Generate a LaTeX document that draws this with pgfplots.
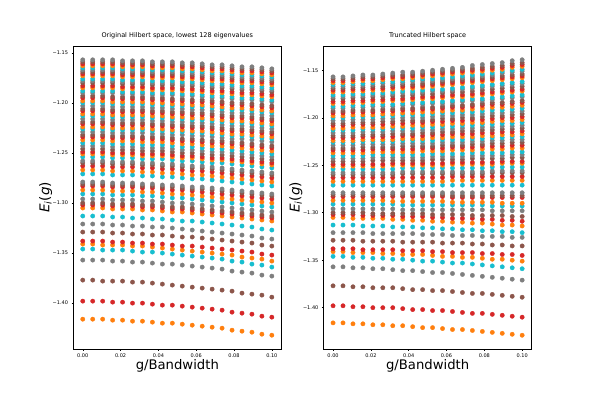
\documentclass[border=0pt]{standalone}
\usepackage{fontspec}
\setmainfont{DejaVu Sans}
\usepackage{pgfplots}
\usepackage{pgfplotstable}
\pgfplotsset{compat=1.18}

\definecolor{tOrange}{HTML}{FF7F0E}
\definecolor{tRed}{HTML}{D62728}
\definecolor{tBrown}{HTML}{8C564B}
\definecolor{tGray}{HTML}{7F7F7F}
\definecolor{tCyan}{HTML}{17BECF}

% one row per (doubly degenerate) eigenvalue, one column per g/Bandwidth value
\pgfplotstableread[header=has colnames]{
0 0.00526 0.01053 0.01579 0.02105 0.02632 0.03158 0.03684 0.04211 0.04737 0.05263 0.05789 0.06316 0.06842 0.07368 0.07895 0.08421 0.08947 0.09474 0.1
-1.416 -1.416 -1.416 -1.417 -1.417 -1.418 -1.418 -1.419 -1.420 -1.420 -1.421 -1.422 -1.423 -1.424 -1.425 -1.427 -1.428 -1.429 -1.431 -1.432
-1.398 -1.398 -1.398 -1.399 -1.399 -1.400 -1.400 -1.401 -1.402 -1.402 -1.403 -1.404 -1.405 -1.406 -1.407 -1.409 -1.410 -1.411 -1.413 -1.414
-1.377 -1.377 -1.378 -1.378 -1.378 -1.379 -1.379 -1.380 -1.381 -1.382 -1.383 -1.384 -1.385 -1.386 -1.387 -1.388 -1.390 -1.391 -1.392 -1.394
-1.357 -1.357 -1.357 -1.358 -1.358 -1.359 -1.359 -1.360 -1.361 -1.361 -1.362 -1.363 -1.364 -1.365 -1.366 -1.368 -1.369 -1.370 -1.372 -1.373
-1.346 -1.346 -1.347 -1.347 -1.347 -1.348 -1.349 -1.349 -1.350 -1.351 -1.352 -1.353 -1.354 -1.355 -1.356 -1.358 -1.359 -1.361 -1.362 -1.364
-1.341 -1.341 -1.342 -1.342 -1.342 -1.343 -1.343 -1.344 -1.345 -1.346 -1.347 -1.348 -1.349 -1.350 -1.351 -1.352 -1.354 -1.355 -1.356 -1.358
-1.338 -1.338 -1.338 -1.339 -1.339 -1.340 -1.340 -1.341 -1.341 -1.342 -1.343 -1.343 -1.344 -1.345 -1.346 -1.347 -1.348 -1.349 -1.351 -1.352
-1.329 -1.329 -1.329 -1.330 -1.330 -1.331 -1.331 -1.332 -1.332 -1.333 -1.334 -1.334 -1.335 -1.336 -1.337 -1.338 -1.339 -1.340 -1.342 -1.343
-1.321 -1.321 -1.321 -1.322 -1.322 -1.323 -1.323 -1.324 -1.324 -1.325 -1.326 -1.327 -1.328 -1.329 -1.330 -1.331 -1.332 -1.333 -1.335 -1.336
-1.313 -1.313 -1.313 -1.314 -1.314 -1.315 -1.315 -1.316 -1.316 -1.317 -1.318 -1.318 -1.319 -1.320 -1.321 -1.322 -1.323 -1.324 -1.326 -1.327
-1.305 -1.305 -1.305 -1.306 -1.306 -1.306 -1.307 -1.307 -1.308 -1.309 -1.309 -1.310 -1.311 -1.312 -1.313 -1.314 -1.315 -1.316 -1.317 -1.318
-1.302 -1.302 -1.302 -1.303 -1.303 -1.303 -1.304 -1.304 -1.305 -1.306 -1.306 -1.307 -1.308 -1.309 -1.310 -1.311 -1.312 -1.313 -1.314 -1.315
-1.300 -1.300 -1.300 -1.301 -1.301 -1.301 -1.302 -1.302 -1.303 -1.304 -1.304 -1.305 -1.306 -1.307 -1.308 -1.309 -1.310 -1.311 -1.312 -1.313
-1.296 -1.296 -1.296 -1.297 -1.297 -1.297 -1.298 -1.298 -1.299 -1.300 -1.300 -1.301 -1.302 -1.303 -1.304 -1.305 -1.306 -1.307 -1.308 -1.309
-1.291 -1.291 -1.291 -1.292 -1.292 -1.292 -1.293 -1.293 -1.294 -1.295 -1.295 -1.296 -1.297 -1.298 -1.299 -1.300 -1.301 -1.302 -1.303 -1.304
-1.287 -1.287 -1.287 -1.288 -1.288 -1.288 -1.289 -1.289 -1.290 -1.291 -1.291 -1.292 -1.293 -1.294 -1.295 -1.296 -1.297 -1.298 -1.299 -1.300
-1.283 -1.283 -1.283 -1.284 -1.284 -1.284 -1.285 -1.285 -1.286 -1.287 -1.287 -1.288 -1.289 -1.290 -1.291 -1.292 -1.293 -1.294 -1.295 -1.296
-1.281 -1.281 -1.281 -1.282 -1.282 -1.282 -1.283 -1.283 -1.284 -1.284 -1.285 -1.286 -1.286 -1.287 -1.288 -1.289 -1.290 -1.291 -1.292 -1.293
-1.279 -1.279 -1.279 -1.280 -1.280 -1.280 -1.281 -1.281 -1.282 -1.282 -1.283 -1.284 -1.284 -1.285 -1.286 -1.287 -1.288 -1.289 -1.290 -1.291
-1.271 -1.271 -1.271 -1.272 -1.272 -1.272 -1.273 -1.273 -1.274 -1.274 -1.275 -1.276 -1.276 -1.277 -1.278 -1.279 -1.280 -1.281 -1.282 -1.283
-1.267 -1.267 -1.267 -1.268 -1.268 -1.268 -1.269 -1.269 -1.270 -1.270 -1.271 -1.272 -1.272 -1.273 -1.274 -1.275 -1.276 -1.277 -1.278 -1.279
-1.263 -1.263 -1.263 -1.264 -1.264 -1.264 -1.265 -1.265 -1.266 -1.266 -1.267 -1.268 -1.268 -1.269 -1.270 -1.271 -1.272 -1.273 -1.274 -1.275
-1.260 -1.260 -1.260 -1.261 -1.261 -1.261 -1.262 -1.262 -1.263 -1.263 -1.264 -1.265 -1.265 -1.266 -1.267 -1.268 -1.269 -1.270 -1.271 -1.272
-1.258 -1.258 -1.258 -1.259 -1.259 -1.259 -1.260 -1.260 -1.261 -1.261 -1.262 -1.263 -1.263 -1.264 -1.265 -1.266 -1.267 -1.268 -1.269 -1.270
-1.254 -1.254 -1.254 -1.255 -1.255 -1.255 -1.256 -1.256 -1.256 -1.257 -1.258 -1.258 -1.259 -1.260 -1.260 -1.261 -1.262 -1.263 -1.264 -1.265
-1.251 -1.251 -1.251 -1.252 -1.252 -1.252 -1.253 -1.253 -1.253 -1.254 -1.255 -1.255 -1.256 -1.257 -1.257 -1.258 -1.259 -1.260 -1.261 -1.262
-1.249 -1.249 -1.249 -1.250 -1.250 -1.250 -1.251 -1.251 -1.251 -1.252 -1.253 -1.253 -1.254 -1.255 -1.255 -1.256 -1.257 -1.258 -1.259 -1.260
-1.246 -1.246 -1.246 -1.247 -1.247 -1.247 -1.248 -1.248 -1.248 -1.249 -1.250 -1.250 -1.251 -1.252 -1.252 -1.253 -1.254 -1.255 -1.256 -1.257
-1.243 -1.243 -1.243 -1.244 -1.244 -1.244 -1.245 -1.245 -1.245 -1.246 -1.247 -1.247 -1.248 -1.249 -1.249 -1.250 -1.251 -1.252 -1.253 -1.254
-1.240 -1.240 -1.240 -1.241 -1.241 -1.241 -1.242 -1.242 -1.242 -1.243 -1.244 -1.244 -1.245 -1.246 -1.246 -1.247 -1.248 -1.249 -1.250 -1.251
-1.237 -1.237 -1.237 -1.238 -1.238 -1.238 -1.239 -1.239 -1.239 -1.240 -1.241 -1.241 -1.242 -1.243 -1.243 -1.244 -1.245 -1.246 -1.247 -1.248
-1.234 -1.234 -1.234 -1.235 -1.235 -1.235 -1.236 -1.236 -1.236 -1.237 -1.238 -1.238 -1.239 -1.240 -1.240 -1.241 -1.242 -1.243 -1.244 -1.245
-1.232 -1.232 -1.232 -1.233 -1.233 -1.233 -1.234 -1.234 -1.234 -1.235 -1.236 -1.236 -1.237 -1.238 -1.238 -1.239 -1.240 -1.241 -1.242 -1.243
-1.229 -1.229 -1.229 -1.230 -1.230 -1.230 -1.230 -1.231 -1.231 -1.232 -1.232 -1.233 -1.233 -1.234 -1.235 -1.236 -1.236 -1.237 -1.238 -1.239
-1.226 -1.226 -1.226 -1.227 -1.227 -1.227 -1.227 -1.228 -1.228 -1.229 -1.229 -1.230 -1.230 -1.231 -1.232 -1.233 -1.233 -1.234 -1.235 -1.236
-1.224 -1.224 -1.224 -1.225 -1.225 -1.225 -1.225 -1.226 -1.226 -1.227 -1.227 -1.228 -1.228 -1.229 -1.230 -1.231 -1.231 -1.232 -1.233 -1.234
-1.221 -1.221 -1.221 -1.222 -1.222 -1.222 -1.222 -1.223 -1.223 -1.224 -1.224 -1.225 -1.225 -1.226 -1.227 -1.228 -1.228 -1.229 -1.230 -1.231
-1.219 -1.219 -1.219 -1.220 -1.220 -1.220 -1.220 -1.221 -1.221 -1.222 -1.222 -1.223 -1.223 -1.224 -1.225 -1.226 -1.226 -1.227 -1.228 -1.229
-1.216 -1.216 -1.216 -1.217 -1.217 -1.217 -1.217 -1.218 -1.218 -1.219 -1.219 -1.220 -1.220 -1.221 -1.222 -1.223 -1.223 -1.224 -1.225 -1.226
-1.213 -1.213 -1.213 -1.214 -1.214 -1.214 -1.214 -1.215 -1.215 -1.216 -1.216 -1.217 -1.217 -1.218 -1.219 -1.220 -1.220 -1.221 -1.222 -1.223
-1.211 -1.211 -1.211 -1.212 -1.212 -1.212 -1.212 -1.213 -1.213 -1.214 -1.214 -1.215 -1.215 -1.216 -1.217 -1.218 -1.218 -1.219 -1.220 -1.221
-1.208 -1.208 -1.208 -1.209 -1.209 -1.209 -1.209 -1.210 -1.210 -1.211 -1.211 -1.212 -1.212 -1.213 -1.214 -1.215 -1.215 -1.216 -1.217 -1.218
-1.206 -1.206 -1.206 -1.207 -1.207 -1.207 -1.207 -1.208 -1.208 -1.209 -1.209 -1.210 -1.210 -1.211 -1.212 -1.213 -1.213 -1.214 -1.215 -1.216
-1.203 -1.203 -1.203 -1.204 -1.204 -1.204 -1.204 -1.205 -1.205 -1.206 -1.206 -1.207 -1.207 -1.208 -1.209 -1.210 -1.210 -1.211 -1.212 -1.213
-1.200 -1.200 -1.200 -1.201 -1.201 -1.201 -1.201 -1.202 -1.202 -1.203 -1.203 -1.204 -1.204 -1.205 -1.206 -1.207 -1.207 -1.208 -1.209 -1.210
-1.198 -1.198 -1.198 -1.199 -1.199 -1.199 -1.199 -1.200 -1.200 -1.201 -1.201 -1.202 -1.202 -1.203 -1.204 -1.205 -1.205 -1.206 -1.207 -1.208
-1.195 -1.195 -1.195 -1.196 -1.196 -1.196 -1.196 -1.197 -1.197 -1.198 -1.198 -1.199 -1.199 -1.200 -1.201 -1.202 -1.202 -1.203 -1.204 -1.205
-1.193 -1.193 -1.193 -1.194 -1.194 -1.194 -1.194 -1.195 -1.195 -1.196 -1.196 -1.197 -1.197 -1.198 -1.199 -1.200 -1.200 -1.201 -1.202 -1.203
-1.190 -1.190 -1.190 -1.190 -1.191 -1.191 -1.191 -1.192 -1.192 -1.192 -1.193 -1.193 -1.194 -1.195 -1.195 -1.196 -1.197 -1.197 -1.198 -1.199
-1.188 -1.188 -1.188 -1.188 -1.189 -1.189 -1.189 -1.190 -1.190 -1.190 -1.191 -1.191 -1.192 -1.193 -1.193 -1.194 -1.195 -1.195 -1.196 -1.197
-1.185 -1.185 -1.185 -1.185 -1.186 -1.186 -1.186 -1.187 -1.187 -1.187 -1.188 -1.188 -1.189 -1.190 -1.190 -1.191 -1.192 -1.192 -1.193 -1.194
-1.183 -1.183 -1.183 -1.183 -1.184 -1.184 -1.184 -1.185 -1.185 -1.185 -1.186 -1.186 -1.187 -1.188 -1.188 -1.189 -1.190 -1.190 -1.191 -1.192
-1.180 -1.180 -1.180 -1.180 -1.181 -1.181 -1.181 -1.182 -1.182 -1.182 -1.183 -1.183 -1.184 -1.185 -1.185 -1.186 -1.187 -1.187 -1.188 -1.189
-1.178 -1.178 -1.178 -1.178 -1.179 -1.179 -1.179 -1.180 -1.180 -1.180 -1.181 -1.181 -1.182 -1.183 -1.183 -1.184 -1.185 -1.185 -1.186 -1.187
-1.176 -1.176 -1.176 -1.176 -1.177 -1.177 -1.177 -1.178 -1.178 -1.178 -1.179 -1.179 -1.180 -1.181 -1.181 -1.182 -1.183 -1.183 -1.184 -1.185
-1.173 -1.173 -1.173 -1.173 -1.174 -1.174 -1.174 -1.175 -1.175 -1.175 -1.176 -1.176 -1.177 -1.178 -1.178 -1.179 -1.180 -1.180 -1.181 -1.182
-1.171 -1.171 -1.171 -1.171 -1.172 -1.172 -1.172 -1.173 -1.173 -1.173 -1.174 -1.174 -1.175 -1.176 -1.176 -1.177 -1.178 -1.178 -1.179 -1.180
-1.169 -1.169 -1.169 -1.169 -1.170 -1.170 -1.170 -1.171 -1.171 -1.171 -1.172 -1.172 -1.173 -1.174 -1.174 -1.175 -1.176 -1.176 -1.177 -1.178
-1.167 -1.167 -1.167 -1.167 -1.168 -1.168 -1.168 -1.169 -1.169 -1.169 -1.170 -1.170 -1.171 -1.172 -1.172 -1.173 -1.174 -1.174 -1.175 -1.176
-1.165 -1.165 -1.165 -1.165 -1.166 -1.166 -1.166 -1.167 -1.167 -1.167 -1.168 -1.168 -1.169 -1.170 -1.170 -1.171 -1.172 -1.172 -1.173 -1.174
-1.163 -1.163 -1.163 -1.163 -1.164 -1.164 -1.164 -1.165 -1.165 -1.165 -1.166 -1.166 -1.167 -1.168 -1.168 -1.169 -1.170 -1.170 -1.171 -1.172
-1.161 -1.161 -1.161 -1.161 -1.162 -1.162 -1.162 -1.163 -1.163 -1.163 -1.164 -1.164 -1.165 -1.166 -1.166 -1.167 -1.168 -1.168 -1.169 -1.170
-1.159 -1.159 -1.159 -1.159 -1.160 -1.160 -1.160 -1.161 -1.161 -1.161 -1.162 -1.162 -1.163 -1.164 -1.164 -1.165 -1.166 -1.166 -1.167 -1.168
-1.157 -1.157 -1.157 -1.157 -1.158 -1.158 -1.158 -1.159 -1.159 -1.159 -1.160 -1.160 -1.161 -1.162 -1.162 -1.163 -1.164 -1.164 -1.165 -1.166
}\rawL

\pgfplotstableread[header=has colnames]{
0 0.00526 0.01053 0.01579 0.02105 0.02632 0.03158 0.03684 0.04211 0.04737 0.05263 0.05789 0.06316 0.06842 0.07368 0.07895 0.08421 0.08947 0.09474 0.1
-1.416 -1.416 -1.417 -1.417 -1.418 -1.418 -1.419 -1.419 -1.420 -1.421 -1.421 -1.422 -1.423 -1.423 -1.424 -1.425 -1.426 -1.427 -1.428 -1.429
-1.398 -1.398 -1.399 -1.399 -1.400 -1.400 -1.400 -1.401 -1.402 -1.402 -1.403 -1.403 -1.404 -1.405 -1.406 -1.406 -1.407 -1.408 -1.409 -1.410
-1.377 -1.377 -1.378 -1.378 -1.379 -1.379 -1.379 -1.380 -1.381 -1.381 -1.382 -1.382 -1.383 -1.384 -1.385 -1.385 -1.386 -1.387 -1.388 -1.389
-1.357 -1.357 -1.358 -1.358 -1.359 -1.359 -1.360 -1.361 -1.361 -1.362 -1.363 -1.363 -1.364 -1.365 -1.366 -1.367 -1.368 -1.369 -1.370 -1.371
-1.346 -1.346 -1.347 -1.347 -1.348 -1.348 -1.349 -1.349 -1.350 -1.351 -1.351 -1.352 -1.353 -1.353 -1.354 -1.355 -1.356 -1.357 -1.358 -1.359
-1.341 -1.341 -1.342 -1.342 -1.342 -1.343 -1.343 -1.344 -1.344 -1.344 -1.345 -1.346 -1.346 -1.347 -1.347 -1.348 -1.349 -1.349 -1.350 -1.351
-1.338 -1.338 -1.338 -1.339 -1.339 -1.339 -1.339 -1.340 -1.340 -1.340 -1.341 -1.341 -1.342 -1.342 -1.342 -1.343 -1.343 -1.344 -1.344 -1.345
-1.329 -1.329 -1.329 -1.330 -1.330 -1.330 -1.330 -1.331 -1.331 -1.331 -1.331 -1.332 -1.332 -1.332 -1.333 -1.333 -1.334 -1.334 -1.335 -1.335
-1.321 -1.321 -1.321 -1.321 -1.322 -1.322 -1.322 -1.322 -1.322 -1.323 -1.323 -1.323 -1.324 -1.324 -1.324 -1.325 -1.325 -1.325 -1.326 -1.326
-1.313 -1.313 -1.313 -1.314 -1.314 -1.314 -1.315 -1.315 -1.315 -1.316 -1.316 -1.317 -1.317 -1.318 -1.318 -1.319 -1.319 -1.320 -1.320 -1.321
-1.305 -1.305 -1.306 -1.306 -1.306 -1.306 -1.307 -1.307 -1.308 -1.308 -1.309 -1.309 -1.310 -1.310 -1.311 -1.311 -1.312 -1.313 -1.313 -1.314
-1.302 -1.302 -1.302 -1.303 -1.303 -1.303 -1.303 -1.304 -1.304 -1.304 -1.305 -1.305 -1.306 -1.306 -1.306 -1.307 -1.307 -1.308 -1.308 -1.309
-1.300 -1.300 -1.300 -1.300 -1.301 -1.301 -1.301 -1.301 -1.301 -1.301 -1.302 -1.302 -1.302 -1.302 -1.303 -1.303 -1.303 -1.303 -1.304 -1.304
-1.296 -1.296 -1.296 -1.296 -1.296 -1.296 -1.296 -1.297 -1.297 -1.297 -1.297 -1.297 -1.297 -1.297 -1.297 -1.297 -1.298 -1.298 -1.298 -1.298
-1.291 -1.291 -1.291 -1.291 -1.291 -1.291 -1.291 -1.292 -1.292 -1.292 -1.292 -1.292 -1.292 -1.292 -1.292 -1.292 -1.293 -1.293 -1.293 -1.293
-1.287 -1.287 -1.287 -1.287 -1.287 -1.287 -1.288 -1.288 -1.288 -1.288 -1.288 -1.288 -1.289 -1.289 -1.289 -1.289 -1.289 -1.290 -1.290 -1.290
-1.283 -1.283 -1.283 -1.283 -1.283 -1.283 -1.283 -1.283 -1.283 -1.283 -1.283 -1.283 -1.284 -1.284 -1.284 -1.284 -1.284 -1.284 -1.284 -1.284
-1.281 -1.281 -1.281 -1.281 -1.281 -1.281 -1.281 -1.281 -1.281 -1.281 -1.281 -1.281 -1.282 -1.282 -1.282 -1.282 -1.282 -1.282 -1.282 -1.282
-1.279 -1.279 -1.279 -1.279 -1.279 -1.279 -1.279 -1.279 -1.279 -1.279 -1.279 -1.279 -1.279 -1.279 -1.279 -1.279 -1.279 -1.279 -1.279 -1.279
-1.271 -1.271 -1.271 -1.271 -1.271 -1.271 -1.271 -1.271 -1.271 -1.271 -1.271 -1.271 -1.271 -1.271 -1.271 -1.271 -1.271 -1.271 -1.271 -1.271
-1.267 -1.267 -1.267 -1.267 -1.267 -1.267 -1.267 -1.267 -1.267 -1.267 -1.267 -1.267 -1.266 -1.266 -1.266 -1.266 -1.266 -1.266 -1.266 -1.266
-1.263 -1.263 -1.263 -1.263 -1.263 -1.263 -1.263 -1.263 -1.263 -1.263 -1.263 -1.263 -1.262 -1.262 -1.262 -1.262 -1.262 -1.262 -1.262 -1.262
-1.260 -1.260 -1.260 -1.260 -1.260 -1.260 -1.260 -1.259 -1.259 -1.259 -1.259 -1.259 -1.259 -1.259 -1.259 -1.259 -1.258 -1.258 -1.258 -1.258
-1.258 -1.258 -1.258 -1.258 -1.258 -1.258 -1.258 -1.257 -1.257 -1.257 -1.257 -1.257 -1.257 -1.257 -1.257 -1.257 -1.256 -1.256 -1.256 -1.256
-1.254 -1.254 -1.254 -1.254 -1.254 -1.254 -1.254 -1.253 -1.253 -1.253 -1.253 -1.253 -1.253 -1.253 -1.253 -1.253 -1.252 -1.252 -1.252 -1.252
-1.251 -1.251 -1.251 -1.251 -1.251 -1.251 -1.250 -1.250 -1.250 -1.250 -1.250 -1.250 -1.249 -1.249 -1.249 -1.249 -1.249 -1.248 -1.248 -1.248
-1.249 -1.249 -1.249 -1.249 -1.249 -1.249 -1.248 -1.248 -1.248 -1.248 -1.248 -1.248 -1.247 -1.247 -1.247 -1.247 -1.247 -1.246 -1.246 -1.246
-1.246 -1.246 -1.246 -1.246 -1.245 -1.245 -1.245 -1.245 -1.245 -1.245 -1.244 -1.244 -1.244 -1.244 -1.243 -1.243 -1.243 -1.243 -1.242 -1.242
-1.243 -1.243 -1.243 -1.243 -1.242 -1.242 -1.242 -1.242 -1.242 -1.242 -1.241 -1.241 -1.241 -1.241 -1.240 -1.240 -1.240 -1.240 -1.239 -1.239
-1.240 -1.240 -1.240 -1.240 -1.239 -1.239 -1.239 -1.239 -1.239 -1.239 -1.238 -1.238 -1.238 -1.238 -1.237 -1.237 -1.237 -1.237 -1.236 -1.236
-1.237 -1.237 -1.237 -1.237 -1.236 -1.236 -1.236 -1.236 -1.236 -1.235 -1.235 -1.235 -1.234 -1.234 -1.234 -1.233 -1.233 -1.233 -1.232 -1.232
-1.234 -1.234 -1.234 -1.234 -1.233 -1.233 -1.233 -1.233 -1.233 -1.232 -1.232 -1.232 -1.231 -1.231 -1.231 -1.230 -1.230 -1.230 -1.229 -1.229
-1.232 -1.232 -1.232 -1.231 -1.231 -1.231 -1.231 -1.230 -1.230 -1.230 -1.230 -1.229 -1.229 -1.229 -1.228 -1.228 -1.227 -1.227 -1.226 -1.226
-1.229 -1.229 -1.229 -1.228 -1.228 -1.228 -1.228 -1.227 -1.227 -1.227 -1.227 -1.226 -1.226 -1.226 -1.225 -1.225 -1.224 -1.224 -1.223 -1.223
-1.226 -1.226 -1.226 -1.225 -1.225 -1.225 -1.225 -1.224 -1.224 -1.224 -1.224 -1.223 -1.223 -1.223 -1.222 -1.222 -1.221 -1.221 -1.220 -1.220
-1.224 -1.224 -1.224 -1.223 -1.223 -1.223 -1.223 -1.222 -1.222 -1.222 -1.221 -1.221 -1.220 -1.220 -1.220 -1.219 -1.219 -1.218 -1.218 -1.217
-1.221 -1.221 -1.221 -1.220 -1.220 -1.220 -1.220 -1.219 -1.219 -1.219 -1.218 -1.218 -1.217 -1.217 -1.217 -1.216 -1.216 -1.215 -1.215 -1.214
-1.219 -1.219 -1.219 -1.218 -1.218 -1.218 -1.217 -1.217 -1.217 -1.216 -1.216 -1.215 -1.215 -1.214 -1.214 -1.213 -1.213 -1.212 -1.212 -1.211
-1.216 -1.216 -1.216 -1.215 -1.215 -1.215 -1.214 -1.214 -1.214 -1.213 -1.213 -1.212 -1.212 -1.211 -1.211 -1.210 -1.210 -1.209 -1.209 -1.208
-1.213 -1.213 -1.213 -1.212 -1.212 -1.212 -1.211 -1.211 -1.211 -1.210 -1.210 -1.209 -1.209 -1.208 -1.208 -1.207 -1.207 -1.206 -1.206 -1.205
-1.211 -1.211 -1.210 -1.210 -1.210 -1.210 -1.209 -1.209 -1.208 -1.208 -1.207 -1.207 -1.206 -1.206 -1.205 -1.205 -1.204 -1.203 -1.203 -1.202
-1.208 -1.208 -1.207 -1.207 -1.207 -1.207 -1.206 -1.206 -1.205 -1.205 -1.204 -1.204 -1.203 -1.203 -1.202 -1.202 -1.201 -1.200 -1.200 -1.199
-1.206 -1.206 -1.205 -1.205 -1.205 -1.204 -1.204 -1.203 -1.203 -1.203 -1.202 -1.201 -1.201 -1.200 -1.200 -1.199 -1.198 -1.198 -1.197 -1.196
-1.203 -1.203 -1.202 -1.202 -1.202 -1.201 -1.201 -1.200 -1.200 -1.200 -1.199 -1.198 -1.198 -1.197 -1.197 -1.196 -1.195 -1.195 -1.194 -1.193
-1.200 -1.200 -1.199 -1.199 -1.199 -1.198 -1.198 -1.197 -1.197 -1.197 -1.196 -1.195 -1.195 -1.194 -1.194 -1.193 -1.192 -1.192 -1.191 -1.190
-1.198 -1.198 -1.197 -1.197 -1.197 -1.196 -1.196 -1.195 -1.195 -1.194 -1.194 -1.193 -1.192 -1.192 -1.191 -1.190 -1.189 -1.189 -1.188 -1.187
-1.195 -1.195 -1.194 -1.194 -1.194 -1.193 -1.193 -1.192 -1.192 -1.191 -1.191 -1.190 -1.189 -1.189 -1.188 -1.187 -1.186 -1.186 -1.185 -1.184
-1.193 -1.193 -1.192 -1.192 -1.192 -1.191 -1.191 -1.190 -1.190 -1.189 -1.189 -1.188 -1.187 -1.187 -1.186 -1.185 -1.184 -1.184 -1.183 -1.182
-1.190 -1.190 -1.189 -1.189 -1.188 -1.188 -1.188 -1.187 -1.186 -1.186 -1.185 -1.185 -1.184 -1.183 -1.182 -1.182 -1.181 -1.180 -1.179 -1.178
-1.188 -1.188 -1.187 -1.187 -1.186 -1.186 -1.186 -1.185 -1.184 -1.184 -1.183 -1.183 -1.182 -1.181 -1.180 -1.180 -1.179 -1.178 -1.177 -1.176
-1.185 -1.185 -1.184 -1.184 -1.183 -1.183 -1.182 -1.182 -1.181 -1.180 -1.180 -1.179 -1.178 -1.178 -1.177 -1.176 -1.175 -1.174 -1.173 -1.172
-1.183 -1.183 -1.182 -1.182 -1.181 -1.181 -1.180 -1.180 -1.179 -1.178 -1.178 -1.177 -1.176 -1.176 -1.175 -1.174 -1.173 -1.172 -1.171 -1.170
-1.180 -1.180 -1.179 -1.179 -1.178 -1.178 -1.177 -1.177 -1.176 -1.175 -1.175 -1.174 -1.173 -1.173 -1.172 -1.171 -1.170 -1.169 -1.168 -1.167
-1.178 -1.178 -1.177 -1.177 -1.176 -1.176 -1.175 -1.174 -1.174 -1.173 -1.172 -1.172 -1.171 -1.170 -1.169 -1.168 -1.167 -1.166 -1.165 -1.164
-1.176 -1.176 -1.175 -1.175 -1.174 -1.174 -1.173 -1.172 -1.172 -1.171 -1.170 -1.170 -1.169 -1.168 -1.167 -1.166 -1.165 -1.164 -1.163 -1.162
-1.173 -1.173 -1.172 -1.172 -1.171 -1.171 -1.170 -1.169 -1.169 -1.168 -1.167 -1.166 -1.165 -1.164 -1.163 -1.162 -1.161 -1.160 -1.159 -1.158
-1.171 -1.171 -1.170 -1.170 -1.169 -1.169 -1.168 -1.167 -1.167 -1.166 -1.165 -1.164 -1.163 -1.162 -1.161 -1.160 -1.159 -1.158 -1.157 -1.156
-1.169 -1.169 -1.168 -1.168 -1.167 -1.167 -1.166 -1.165 -1.165 -1.164 -1.163 -1.162 -1.161 -1.160 -1.159 -1.158 -1.157 -1.156 -1.155 -1.154
-1.167 -1.167 -1.166 -1.166 -1.165 -1.164 -1.164 -1.163 -1.162 -1.161 -1.161 -1.160 -1.159 -1.158 -1.157 -1.156 -1.155 -1.153 -1.152 -1.151
-1.165 -1.165 -1.164 -1.164 -1.163 -1.162 -1.162 -1.161 -1.160 -1.159 -1.159 -1.158 -1.157 -1.156 -1.155 -1.154 -1.153 -1.151 -1.150 -1.149
-1.163 -1.163 -1.162 -1.161 -1.161 -1.160 -1.159 -1.159 -1.158 -1.157 -1.156 -1.155 -1.154 -1.153 -1.152 -1.151 -1.150 -1.149 -1.147 -1.146
-1.161 -1.161 -1.160 -1.159 -1.159 -1.158 -1.157 -1.157 -1.156 -1.155 -1.154 -1.153 -1.152 -1.151 -1.150 -1.149 -1.148 -1.147 -1.145 -1.144
-1.159 -1.159 -1.158 -1.157 -1.157 -1.156 -1.155 -1.155 -1.154 -1.153 -1.152 -1.151 -1.150 -1.149 -1.148 -1.147 -1.146 -1.145 -1.143 -1.142
-1.157 -1.157 -1.156 -1.155 -1.155 -1.154 -1.153 -1.152 -1.152 -1.151 -1.150 -1.149 -1.148 -1.147 -1.145 -1.144 -1.143 -1.142 -1.140 -1.139
}\rawR

% columns become: 0 = g values, 1..64 = eigenvalues
\pgfplotstabletranspose{\specL}{\rawL}
\pgfplotstabletranspose{\specR}{\rawR}

\pgfplotsset{
  eigen/.style={
    scale only axis, width=208pt, height=303pt,
    xmin=-0.005, xmax=0.105,
    xtick={0,0.02,0.04,0.06,0.08,0.1},
    xticklabels={0.00,0.02,0.04,0.06,0.08,0.10},
    ytick={-1.40,-1.35,-1.30,-1.25,-1.20,-1.15},
    yticklabels={−1.40,−1.35,−1.30,−1.25,−1.20,−1.15},
    tick align=outside, tick pos=left, major tick length=1.7pt,
    tick style={black, line width=0.4pt},
    ticklabel style={font=\fontsize{5}{6}\selectfont},
    axis line style={line width=0.45pt},
    title style={font=\fontsize{6.5}{8}\selectfont, at={(axis description cs:0.5,1)}, anchor=base, yshift=2.5pt},
    xlabel={g/Bandwidth},
    xlabel style={font=\fontsize{13.2}{15}\selectfont, at={(axis description cs:0.5,-0.056)}, anchor=center},
    ylabel={\textit{E}\textsubscript{\textit{i}}(\textit{g})},
    ylabel style={font=\fontsize{13.5}{15}\selectfont, at={(axis description cs:-0.133,0.5)}, anchor=center},
    cycle list={{tOrange},{tRed},{tBrown},{tGray},{tCyan}},
    every axis plot/.append style={only marks, mark=*, mark size=2.2pt, line width=0.3pt},
  }
}

\begin{document}
\begin{tikzpicture}
\path[use as bounding box] (0,0) rectangle (591pt,393pt);

\begin{axis}[eigen, at={(73.3pt,44pt)}, anchor=south west,
  ymin=-1.4458, ymax=-1.1432,
  title={Original Hilbert space, lowest 128 eigenvalues}]
  \pgfplotsinvokeforeach{1,...,64}{
    \addplot+ table[x index=0, y index=#1] {\specL};
  }
\end{axis}

\begin{axis}[eigen, at={(323.6pt,44pt)}, anchor=south west,
  ymin=-1.4435, ymax=-1.1245,
  title={Truncated Hilbert space}]
  \pgfplotsinvokeforeach{1,...,64}{
    \addplot+ table[x index=0, y index=#1] {\specR};
  }
\end{axis}
\end{tikzpicture}
\end{document}
